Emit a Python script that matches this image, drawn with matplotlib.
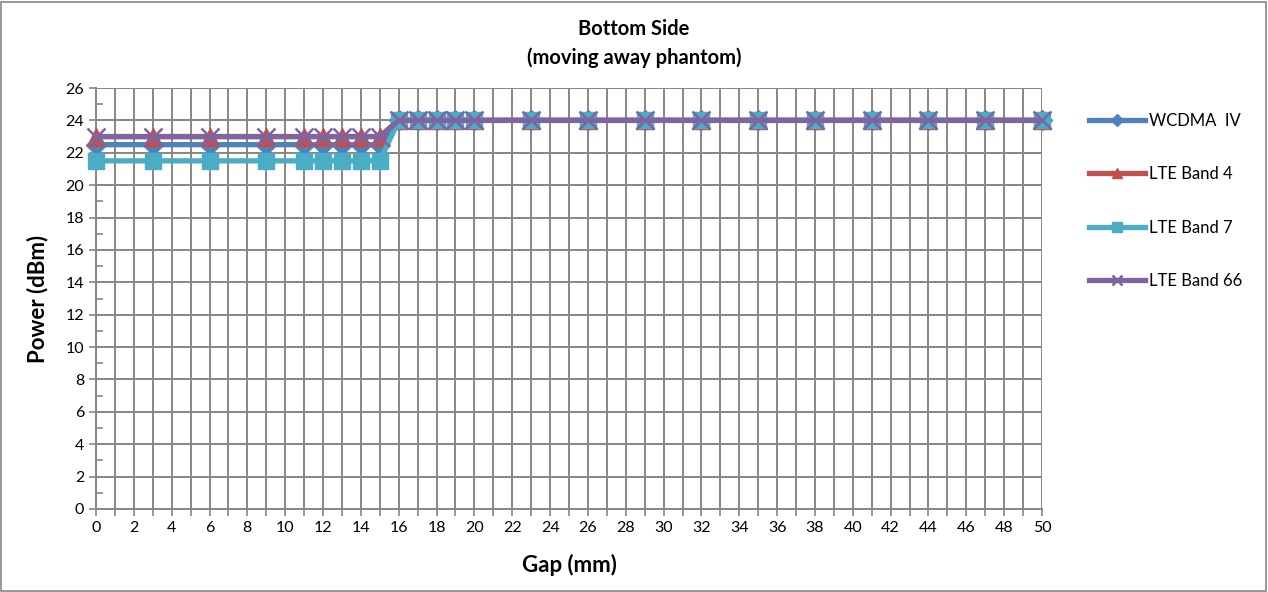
import numpy as np
import matplotlib
matplotlib.use("Agg")
import matplotlib.pyplot as plt
from matplotlib.ticker import MultipleLocator
from matplotlib.patches import Rectangle

plt.rcParams['font.family'] = ['Lato', 'DejaVu Sans']

# data
gap = [0, 3, 6, 9, 11, 12, 13, 14, 15, 16, 17, 18, 19, 20, 23, 26, 29, 32, 35, 38, 41, 44, 47, 50]
wcdma_iv = [22.5] * 9 + [24] * 15
lte_b4 = [23] * 9 + [24] * 15
lte_b7 = [21.5] * 9 + [24] * 15
lte_b66 = [23] * 9 + [24] * 15

series = [
    ("WCDMA  IV", wcdma_iv, "#4F81BD", "D", 10),
    ("LTE Band 4", lte_b4, "#C0504D", "^", 13),
    ("LTE Band 7", lte_b7, "#4BACC6", "s", 11),
    ("LTE Band 66", lte_b66, "#8064A2", "x", 13),
]

fig = plt.figure(figsize=(12.68, 5.92), dpi=100)
ax = fig.add_axes([96 / 1268, 1 - 509 / 592, (1042 - 96) / 1268, (509 - 88) / 592])

for name, vals, col, mk, ms in series:
    ax.plot(gap, vals, color=col, lw=3.8, marker=mk, markersize=ms,
            markeredgewidth=1.8 if mk == "x" else 1, markeredgecolor=col,
            label=name, clip_on=False, zorder=3)

ax.set_xlim(0, 50)
ax.set_ylim(0, 26)
ax.xaxis.set_major_locator(MultipleLocator(2))
ax.xaxis.set_minor_locator(MultipleLocator(1))
ax.yaxis.set_major_locator(MultipleLocator(2))
ax.yaxis.set_minor_locator(MultipleLocator(1))
ax.grid(True, which='major', axis='both', color='#868686', lw=1.4)
ax.grid(True, which='minor', axis='x', color='#868686', lw=1.4)
ax.set_axisbelow(True)
for s in ['top', 'right']:
    ax.spines[s].set_visible(False)
for s in ['left', 'bottom']:
    ax.spines[s].set_color('#868686')
    ax.spines[s].set_linewidth(1.4)
ax.tick_params(axis='both', which='both', color='#868686', width=1.2, labelsize=11.5)
ax.tick_params(axis='x', which='both', direction='out', length=5)
ax.tick_params(axis='y', which='major', direction='out', length=5)
ax.tick_params(axis='y', which='minor', direction='in', length=5)

ax.set_xlabel("Gap (mm)", fontsize=16, fontweight='bold', labelpad=14)
ax.set_ylabel("Power (dBm)", fontsize=16, fontweight='bold', labelpad=12)
fig.text(0.5, 1 - 29 / 592, "Bottom Side", ha='center', va='center', fontsize=14.5, fontweight='bold')
fig.text(0.5, 1 - 58 / 592, "(moving away phantom)", ha='center', va='center', fontsize=14.5, fontweight='bold')

ax.legend(loc='upper left', bbox_to_anchor=(1082 / 1268, 1 - 106 / 592), bbox_transform=fig.transFigure,
          frameon=False, fontsize=12, handlelength=3.4, handletextpad=0.2, labelspacing=2.25,
          borderaxespad=0, markerscale=0.6)

fig.add_artist(Rectangle((1 / 1268, 1 / 592), 1 - 3 / 1268, 1 - 3 / 592, transform=fig.transFigure,
                         fill=False, edgecolor='#868686', lw=1.2))

fig.savefig("out.png", dpi=100)
